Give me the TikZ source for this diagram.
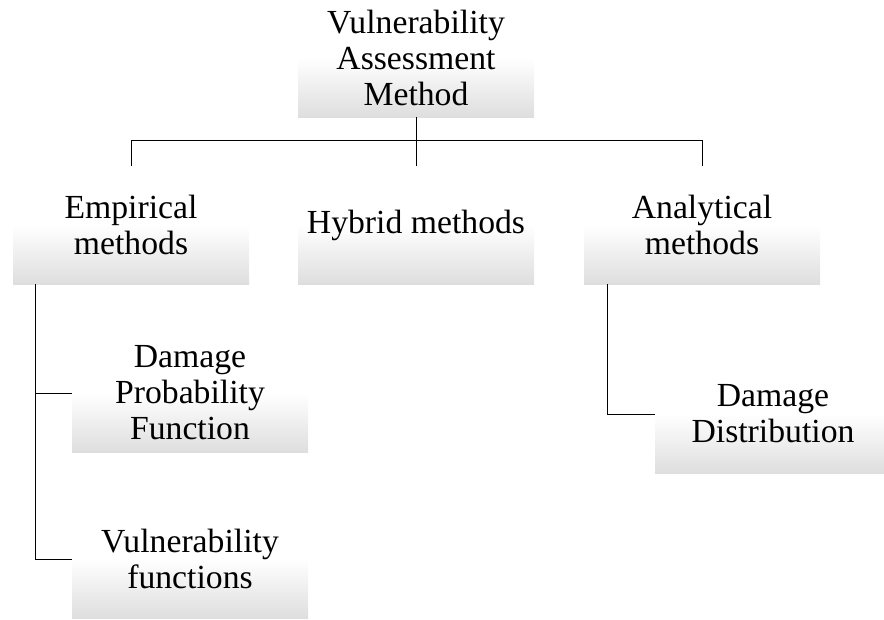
\documentclass[tikz,border=0pt]{standalone}
\usepackage{fontspec}
\setmainfont{Liberation Serif}
\usepackage{tikz}
\usetikzlibrary{positioning}

% white upper half, fading to light grey at the bottom edge
\pgfdeclareverticalshading{boxfade}{100bp}{color(0bp)=(black!13); color(25bp)=(black!13);
  color(50bp)=(white); color(100bp)=(white)}

\begin{document}
\begin{tikzpicture}[
  x=1pt, y=-1pt,
  box/.style={shading=boxfade, align=center, inner sep=0pt,
              minimum width=236pt, minimum height=118pt,
              font=\fontsize{33.7}{36}\selectfont},
  link/.style={draw, line width=1pt, line cap=rect}
]
\useasboundingbox (0,0) rectangle (884,619);
\clip (0,0) rectangle (884,619);

\node[box] (root) at (416,58) {Vulnerability\\Assessment\\Method};
\node[box] (emp) at (131,225) {Empirical\\methods};
\node[box] (hyb) at (416,225) {Hybrid methods};
\node[box] (ana) at (702,225) {Analytical\\methods};
\node[box] (dpf) at (190,393) {Damage\\Probability\\Function};
\node[box] (vuf) at (190,559) {Vulnerability\\functions};
\node[box] (dmd) at (773,414) {Damage\\Distribution};

% tree links
\draw[link] (root.south) -- ++(0,23) coordinate (bus);
\draw[link] (emp.north) |- (bus) -| (ana.north);
\draw[link] (bus) -- (hyb.north);
\draw[link] ([xshift=23pt]emp.south west) |- (vuf.west);
\draw[link] ([xshift=23pt]emp.south west |- dpf.west) -- (dpf.west);
\draw[link] ([xshift=24pt]ana.south west) |- (dmd.west);
\end{tikzpicture}
\end{document}
